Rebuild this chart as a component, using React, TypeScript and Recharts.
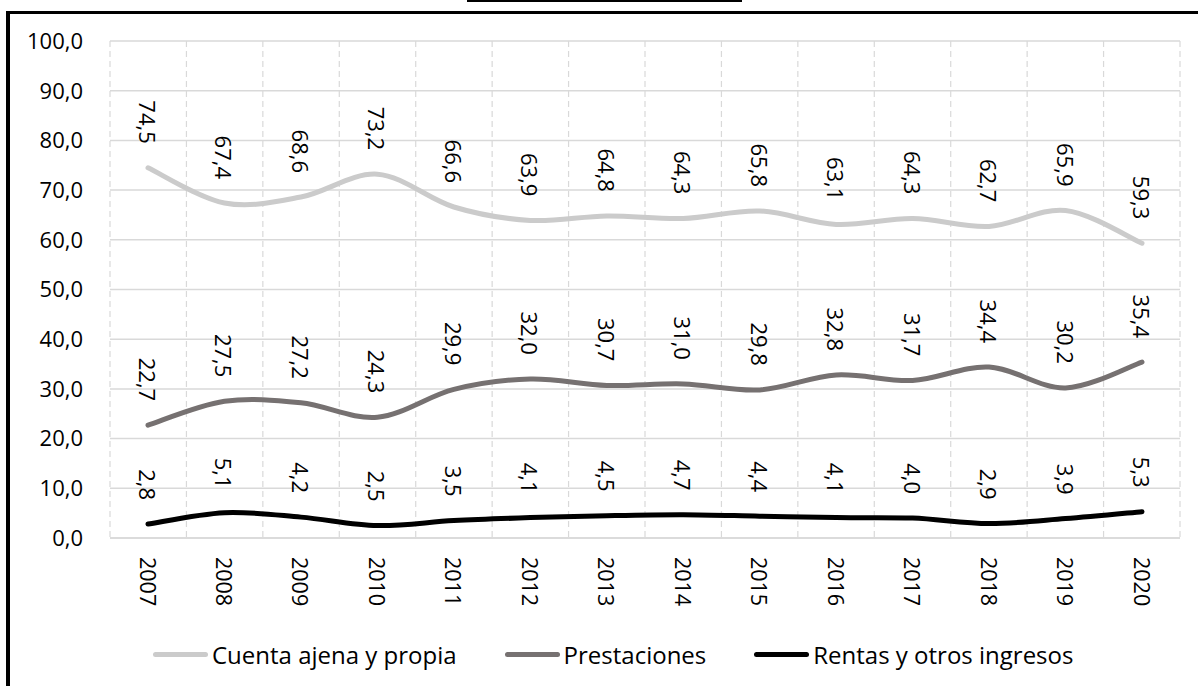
import { LineChart, Line, XAxis, YAxis, CartesianGrid, Legend, LabelList } from 'recharts'

const years = ['2007', '2008', '2009', '2010', '2011', '2012', '2013', '2014', '2015', '2016', '2017', '2018', '2019', '2020']
const cuentaAjena = [74.5, 67.4, 68.6, 73.2, 66.6, 63.9, 64.8, 64.3, 65.8, 63.1, 64.3, 62.7, 65.9, 59.3]
const prestaciones = [22.7, 27.5, 27.2, 24.3, 29.9, 32.0, 30.7, 31.0, 29.8, 32.8, 31.7, 34.4, 30.2, 35.4]
const rentas = [2.8, 5.1, 4.2, 2.5, 3.5, 4.1, 4.5, 4.7, 4.4, 4.1, 4.0, 2.9, 3.9, 5.3]
const yTicks = [0, 10, 20, 30, 40, 50, 60, 70, 80, 90, 100]

const series = [
  { key: 'cuenta', name: 'Cuenta ajena y propia', color: '#cbcbcb' },
  { key: 'prest', name: 'Prestaciones', color: '#767171' },
  { key: 'rentas', name: 'Rentas y otros ingresos', color: '#000000' },
]

const data = years.map((year, i) => ({
  year,
  cuenta: cuentaAjena[i],
  prest: prestaciones[i],
  rentas: rentas[i],
}))

const FONT = '"Open Sans", sans-serif'
const fmt = (v: number) => v.toFixed(1).replace('.', ',')

// smoothing close to Excel's (catmull-rom through the points)
function smoothCurve(context: any) {
  let pts: number[][] = []
  return {
    areaStart() {},
    areaEnd() {},
    lineStart() {
      pts = []
    },
    point(x: number, y: number) {
      pts.push([+x, +y])
    },
    lineEnd() {
      if (!pts.length) return
      context.moveTo(pts[0][0], pts[0][1])
      for (let i = 0; i < pts.length - 1; i++) {
        const p0 = pts[i - 1] || pts[i]
        const p1 = pts[i]
        const p2 = pts[i + 1]
        const p3 = pts[i + 2] || p2
        context.bezierCurveTo(
          p1[0] + (p2[0] - p0[0]) / 6,
          p1[1] + (p2[1] - p0[1]) / 6,
          p2[0] - (p3[0] - p1[0]) / 6,
          p2[1] - (p3[1] - p1[1]) / 6,
          p2[0],
          p2[1],
        )
      }
    },
  }
}

const XTick = ({ x, y, payload }: any) => (
  <text
    x={x}
    y={y}
    transform={`rotate(90 ${x} ${y})`}
    textAnchor="start"
    dominantBaseline="central"
    fontSize={21.5}
    fontFamily={FONT}
    fill="#000"
  >
    {payload.value}
  </text>
)

const renderLabel = (props: any) => {
  const { x, y, value } = props
  const ly = y - 24
  return (
    <text
      x={x}
      y={ly}
      transform={`rotate(90 ${x} ${ly})`}
      textAnchor="end"
      dominantBaseline="central"
      fontSize={22}
      fontFamily={FONT}
      fill="#000"
    >
      {fmt(value)}
    </text>
  )
}

const renderLegend = () => (
  <div style={{ display: 'flex', alignItems: 'center', marginLeft: 153, fontFamily: FONT, fontSize: 24, color: '#000', height: 40 }}>
    {series.map((s, i) => (
      <div key={s.key} style={{ display: 'flex', alignItems: 'center', marginRight: i < series.length - 1 ? 48 : 0 }}>
        <div style={{ width: 55, height: 5, borderRadius: 3, background: s.color, marginRight: 4 }} />
        <span>{s.name}</span>
      </div>
    ))}
  </div>
)

const boundaries = ({ offset }: any) => {
  const left = offset?.left ?? 110
  const width = offset?.width ?? 1070
  return Array.from({ length: years.length + 1 }, (_, i) => left + (i * width) / years.length)
}

export default function App() {
  return (
    <div style={{ position: 'absolute', left: 0, top: 0, width: 1198, height: 686, background: '#fff', overflow: 'hidden' }}>
      <div style={{ position: 'absolute', left: 467, top: 0, width: 275, height: 2, background: '#000' }} />
      <div style={{ position: 'absolute', left: 6, top: 11, width: 1192, height: 3, background: '#000' }} />
      <div style={{ position: 'absolute', left: 6, top: 11, width: 4, height: 675, background: '#000' }} />
      <div style={{ position: 'absolute', left: 0, top: 0 }}>
        <LineChart width={1198} height={686} data={data} margin={{ top: 41, right: 18, left: 0, bottom: 0 }}>
          <CartesianGrid vertical={false} stroke="#d9d9d9" strokeWidth={1.5} />
          <CartesianGrid
            horizontal={false}
            stroke="#d9d9d9"
            strokeWidth={1.2}
            strokeDasharray="6 4"
            verticalCoordinatesGenerator={boundaries}
          />
          <XAxis
            dataKey="year"
            height={108}
            padding={{ left: 38, right: 38 }}
            tickSize={0}
            tickMargin={19}
            interval={0}
            tick={<XTick />}
            axisLine={{ stroke: '#d9d9d9', strokeWidth: 1.5 }}
          />
          <YAxis
            width={110}
            domain={[0, 100]}
            ticks={yTicks}
            tickFormatter={fmt}
            tickSize={0}
            tickMargin={27}
            axisLine={false}
            tick={{ fontSize: 22, fontFamily: FONT, fill: '#000' }}
          />
          <Legend
            verticalAlign="bottom"
            height={40}
            content={renderLegend}
            wrapperStyle={{ top: 634, bottom: 'auto', left: 0, width: 1198 }}
          />
          {series.map((s) => (
            <Line
              key={s.key}
              dataKey={s.key}
              name={s.name}
              type={smoothCurve as any}
              stroke={s.color}
              strokeWidth={5}
              strokeLinecap="round"
              dot={false}
              activeDot={false}
              isAnimationActive={false}
            >
              <LabelList dataKey={s.key} content={renderLabel} />
            </Line>
          ))}
        </LineChart>
      </div>
    </div>
  )
}
